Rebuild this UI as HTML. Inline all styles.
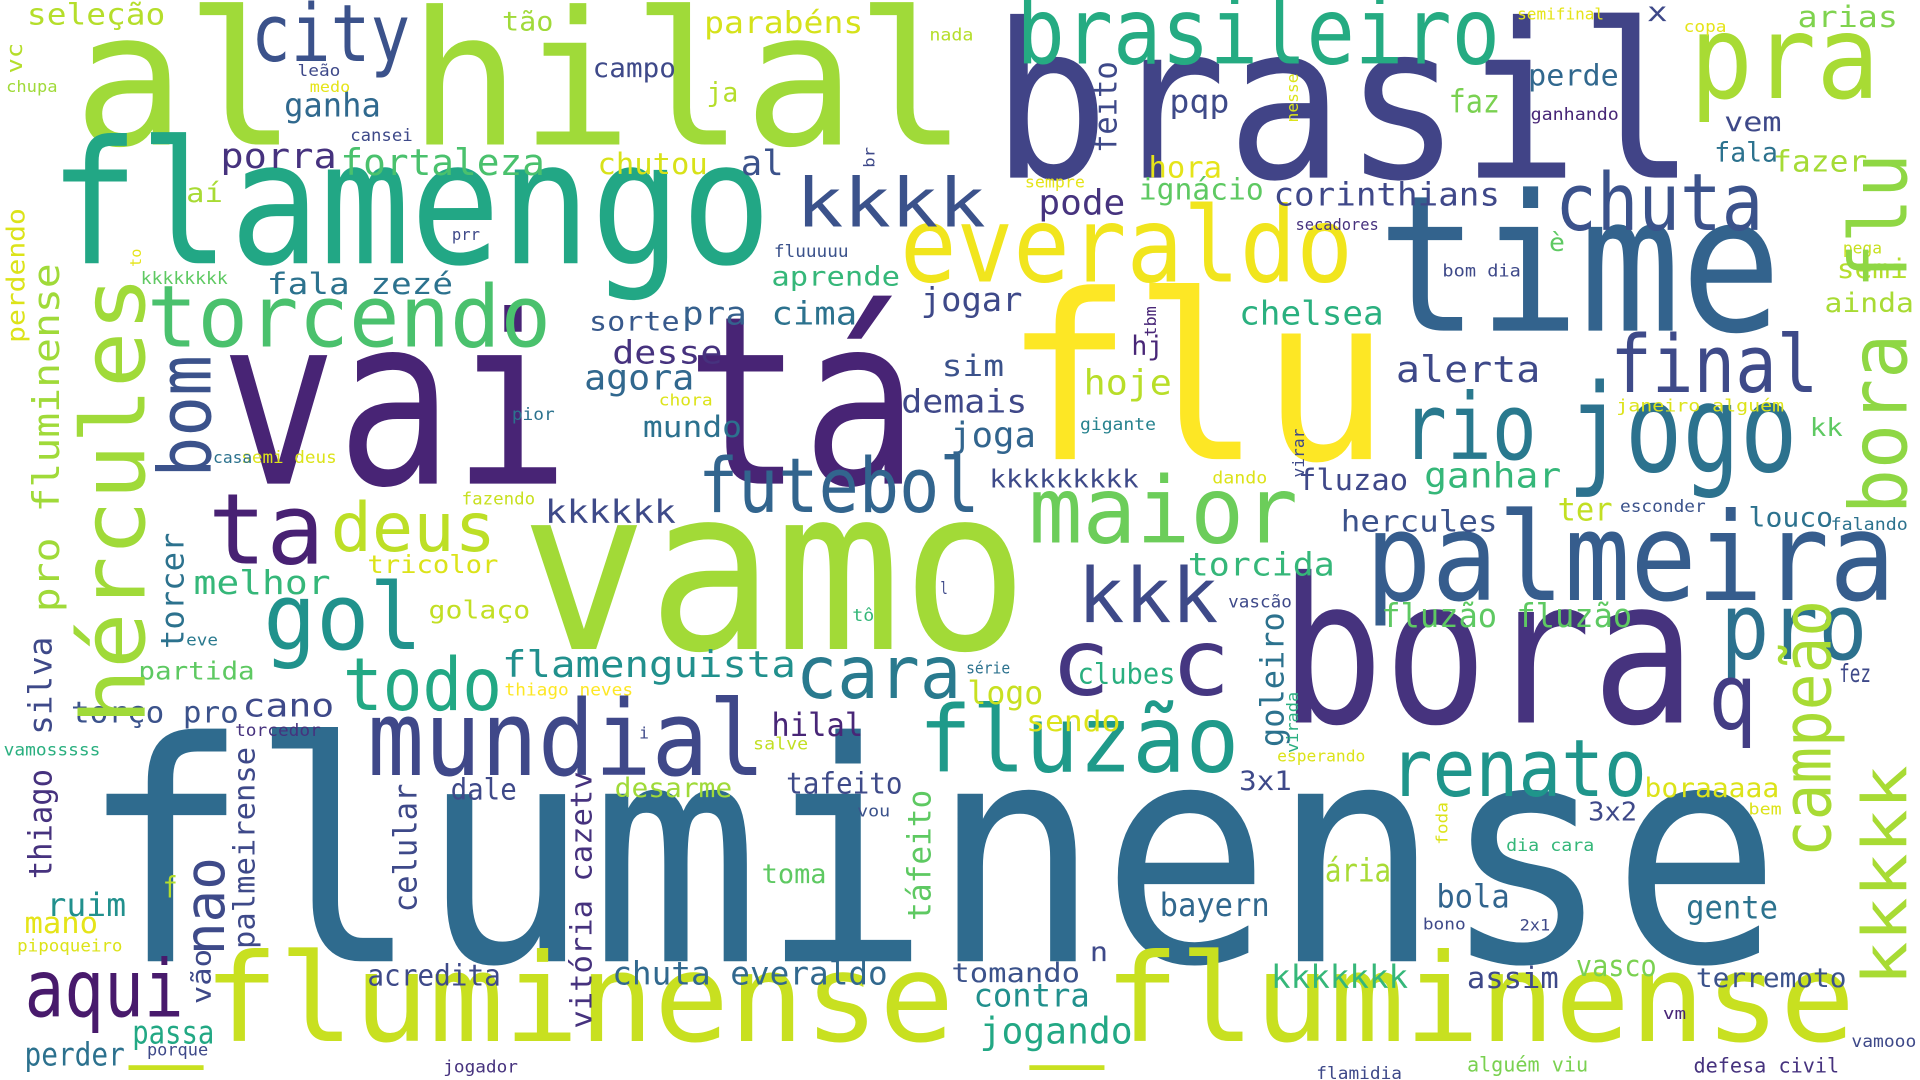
<!DOCTYPE html>
<html><head><meta charset="utf-8"><title>Word cloud</title>
<style>
html,body{margin:0;padding:0;background:#fff;overflow:hidden}
svg{display:block}
text{font-family:"DejaVu Sans Mono","Liberation Mono",monospace}
</style></head>
<body>
<svg id="cloud" width="1920" height="1080" viewBox="0 0 1568 882" xmlns="http://www.w3.org/2000/svg">
<rect width="1568" height="882" fill="#fff"/>
</svg>
<script>
// horizontal words: text, left x, right x, baseline y, font size, colour
const wordsH = [
["al hilal",60,790,118,152,"#a0da39"],
["brasil",810,1385,145,176,"#414487"],
["flamengo",40,630,215,140,"#22a785"],
["vai tá",180,750,395,192,"#482475"],
["flu",820,1135,375,188,"#fde725"],
["time",1125,1455,270,155,"#33638d"],
["vamo",425,840,530,185,"#a2da37"],
["fluminense",65,1455,785,250,"#2f6b8e"],
["_fluminense _fluminense",105,1515,850,100,"#c8e020"],
["bora",1045,1385,590,165,"#46337e"],
["palmeira",1115,1548,490,100,"#365d8d"],
["jogo",1280,1468,385,100,"#2c728e"],
["brasileiro",830,1225,52,75,"#25ab82"],
["pra",1380,1535,80,95,"#a8db34"],
["everaldo",735,1105,230,85,"#f1e51d"],
["chuta",1270,1440,188,65,"#3b528b"],
["final",1315,1485,320,65,"#3e4a89"],
["rio",1145,1255,375,75,"#29798e"],
["pro",1405,1525,538,75,"#2c718e"],
["q",1395,1435,595,75,"#433d84"],
["renato",1135,1345,650,65,"#1f958b"],
["maior",840,1060,443,75,"#6ccd5a"],
["futebol",570,800,418,62,"#32658e"],
["kkk",880,995,508,62,"#3e4a89"],
["c c",858,1005,567,75,"#453781"],
["cara",650,785,570,60,"#297a8e"],
["mundial",300,625,633,85,"#3f4889"],
["fluzão",750,1012,630,75,"#1f9a8a"],
["todo",280,410,580,60,"#22a884"],
["gol",215,345,530,75,"#20928c"],
["ta",170,265,460,80,"#482173"],
["deus",270,405,450,55,"#bddf26"],
["torcendo",120,450,283,70,"#4ac16d"],
["kkkk",650,805,185,55,"#3b528b"],
["city",205,335,50,65,"#3b528b"],
["aqui",20,150,830,65,"#481a6c"],
["porra",180,275,137,28,"#46327e"],
["fortaleza",278,445,143,30,"#4ac16d"],
["ganha",232,311,95,27,"#30698e"],
["campo",484,552,63,22,"#3e4989"],
["tão",410,452,25,22,"#a0da39"],
["parabéns",575,705,27,25,"#d5e21a"],
["seleção",22,135,20,24,"#b5de2b"],
["chutou",488,578,142,24,"#d8e219"],
["al",605,640,143,28,"#3b528b"],
["pode",848,919,175,28,"#46337e"],
["pqp",955,1004,92,26,"#3e4a89"],
["hora",938,998,145,24,"#e5e419"],
["ignácio",930,1032,163,24,"#5ec962"],
["corinthians",1040,1225,168,26,"#3f4889"],
["perde",1248,1322,70,24,"#31688e"],
["faz",1183,1225,92,26,"#7ad151"],
["vem",1408,1455,107,22,"#3e4989"],
["fala",1400,1452,132,22,"#2c728e"],
["fazer",1448,1525,140,24,"#a5db36"],
["arias",1468,1550,22,24,"#7fd34e"],
["x",1345,1362,17,22,"#3e4989"],
["semi",1500,1558,227,22,"#b5de2b"],
["ainda",1490,1563,255,22,"#a8db34"],
["fala zezé",218,370,240,24,"#2c728e"],
["aprende",630,735,233,22,"#35b779"],
["cima",630,700,265,26,"#2c728e"],
["pra",557,610,265,26,"#35608d"],
["sorte",481,555,270,22,"#38598c"],
["desse",500,590,297,26,"#46327e"],
["agora",477,567,318,28,"#31688e"],
["jogar",752,835,254,27,"#3e4989"],
["chelsea",1012,1130,265,27,"#2ab07f"],
["alerta",1140,1258,312,30,"#3e4989"],
["sim",769,820,307,24,"#3b528b"],
["hoje",885,957,322,28,"#b8de29"],
["hj",924,950,290,22,"#482677"],
["demais",736,839,337,26,"#3f4889"],
["joga",776,846,365,28,"#32658e"],
["mundo",525,606,357,24,"#2c718e"],
["kkkkkkkkk",808,930,398,20,"#3e4a89"],
["fluzao",1060,1150,400,24,"#3f4889"],
["ganhar",1163,1275,398,28,"#35b779"],
["ter",1272,1317,425,26,"#c2df23"],
["hercules",1095,1223,434,24,"#3b528b"],
["louco",1428,1497,430,22,"#2c728e"],
["falando",1495,1558,433,14,"#2c728e"],
["esconder",1323,1393,418,14,"#3b528b"],
["kkkkkk",445,552,427,26,"#3e4a89"],
["melhor",158,270,485,27,"#35b779"],
["tricolor",300,407,468,20,"#dce319"],
["torcida",970,1090,470,26,"#35b779"],
["fluzão fluzão",1128,1333,512,27,"#5ec962"],
["golaço",350,433,505,20,"#c2df23"],
["partida",113,208,555,20,"#5ec962"],
["flamenguista",410,650,553,30,"#21908d"],
["logo",790,852,575,26,"#c8e020"],
["série",789,825,550,13,"#2c728e"],
["clubes",880,960,558,23,"#29af7f"],
["sendo",838,915,597,23,"#dce319"],
["torço pro",58,195,590,24,"#3b528b"],
["cano",198,273,585,26,"#3e4989"],
["hilal",630,705,601,26,"#482677"],
["thiago neves",412,517,568,14,"#fde725"],
["fez",1502,1528,557,20,"#3e4989"],
["dale",368,422,653,24,"#3e4989"],
["desarme",502,598,651,22,"#a0da39"],
["tafeito",642,737,648,24,"#3e4a89"],
["3x1",1012,1055,645,22,"#3e4989"],
["boraaaaa",1343,1453,651,22,"#dce319"],
["3x2",1297,1337,670,21,"#3e4989"],
["bola",1173,1233,741,26,"#32658e"],
["gente",1377,1452,750,26,"#2c728e"],
["ária",1082,1136,720,26,"#a8db34"],
["bayern",947,1037,748,26,"#31688e"],
["toma",622,675,721,22,"#5ec962"],
["n",890,905,785,22,"#3e4989"],
["acredita",300,409,805,24,"#3e4a89"],
["chuta everaldo",500,725,804,26,"#31688e"],
["tomando",777,882,802,22,"#3b528b"],
["contra",795,890,822,26,"#21908d"],
["jogando",800,925,852,30,"#22a884"],
["kkkkkkk",1038,1150,807,26,"#35b779"],
["assim",1198,1273,807,24,"#3e4989"],
["vasco",1287,1353,797,24,"#7ad151"],
["terremoto",1385,1508,806,22,"#3b528b"],
["ruim",38,103,748,26,"#21908d"],
["mano",20,80,762,24,"#e5e419"],
["perder",20,102,870,26,"#2c718e"],
["passa",108,175,852,26,"#22a884"],
["porque",120,170,862,14,"#3e4989"],
["jogador",362,423,876,14,"#46327e"],
["alguém viu",1198,1297,875,17,"#7ad151"],
["flamidia",1075,1145,881,14,"#3e4989"],
["defesa civil",1383,1502,876,17,"#46327e"],
["vamooo",1512,1565,855,14,"#3e4989"],
["vm",1358,1377,832,13,"#482677"],
["f",133,145,733,24,"#b5de2b"],
["vou",700,727,667,13,"#3b528b"],
["salve",615,660,612,14,"#c2df23"],
["i",522,530,603,13,"#3e4989"],
["torcedor",192,262,601,14,"#46327e"],
["vamosssss",3,82,617,14,"#29af7f"],
["esperando",1043,1115,622,13,"#dce319"],
["bono",1162,1197,759,13,"#3e4989"],
["2x1",1241,1266,760,13,"#3e4989"],
["dia cara",1230,1302,695,14,"#35b779"],
["bem",1428,1455,665,13,"#dce319"],
["pipoqueiro",14,100,777,14,"#dce319"],
["tô",696,714,507,14,"#35b779"],
["eve",152,178,527,13,"#29798e"],
["l",768,774,485,14,"#3e4989"],
["vascão",1003,1055,496,14,"#3e4989"],
["kk",1478,1505,356,20,"#5ec962"],
["janeiro alguém",1320,1457,336,14,"#dce319"],
["gigante",882,944,351,14,"#26828e"],
["dando",990,1035,395,14,"#dce319"],
["fazendo",377,437,412,14,"#c8e020"],
["semi deus",197,275,378,14,"#dce319"],
["casa",174,206,378,13,"#2c728e"],
["pior",418,453,343,14,"#2c728e"],
["chora",538,582,331,13,"#dce319"],
["kkkkkkkk",115,186,232,14,"#5ec962"],
["prr",369,392,196,13,"#3e4989"],
["fluuuuu",632,693,210,14,"#3b528b"],
["aí",152,182,165,22,"#a8db34"],
["ja",577,603,83,22,"#b5de2b"],
["leão",243,278,62,13,"#3e4989"],
["medo",253,286,75,12,"#e5e419"],
["chupa",5,47,75,13,"#a0da39"],
["cansei",286,337,115,14,"#3e4989"],
["nada",759,795,33,14,"#b5de2b"],
["semifinal",1239,1310,16,13,"#e5e419"],
["copa",1375,1410,26,13,"#e5e419"],
["ganhando",1250,1322,98,14,"#482677"],
["secadores",1058,1126,188,13,"#46327e"],
["è",1265,1278,205,20,"#5ec962"],
["pega",1505,1537,207,13,"#c8e020"],
["bom dia",1178,1242,226,14,"#3e4989"],
["sempre",837,886,153,13,"#e5e419"]
];
// vertical words (read bottom-to-top): text, baseline x, bottom y, top y, font size, colour
const wordsV = [
["hércules",118,592,225,72,"#a0da39"],
["bom",172,390,290,60,"#3b528b"],
["nao",183,780,700,45,"#3e4a89"],
["pro fluminense",48,500,215,30,"#a0da39"],
["perdendo",20,280,170,20,"#dce319"],
["vc",18,60,35,18,"#b5de2b"],
["to",115,218,203,12,"#e5e419"],
["silva",42,600,520,26,"#3e4989"],
["thiago",42,718,628,26,"#46327e"],
["torcer",150,530,435,26,"#2c728e"],
["palmeirense",208,775,610,24,"#3e4989"],
["vão",172,820,775,22,"#3e4989"],
["celular",340,745,640,26,"#3e4989"],
["vitória cazetv",483,840,630,24,"#46327e"],
["feito",912,125,50,26,"#3e4989"],
["br",714,137,120,12,"#3e4989"],
["tbm",944,275,250,13,"#482677"],
["nesse",1060,100,60,13,"#dce319"],
["goleiro",1048,610,500,26,"#2c728e"],
["virada",1060,615,565,13,"#29af7f"],
["virar",1065,390,350,13,"#3e4989"],
["táfeito",760,752,645,26,"#5ec962"],
["foda",1182,690,655,13,"#dce319"],
["campeão",1495,700,490,55,"#a8db34"],
["kkkkk",1557,805,625,50,"#a8db34"],
["bora flu",1557,420,125,65,"#8fd744"]
];
const svg = document.getElementById('cloud');
const NS = 'http://www.w3.org/2000/svg';
function slug(s){return s.normalize('NFD').replace(/[\u0300-\u036f]/g,'').replace(/[^a-zA-Z0-9]+/g,'-').replace(/^-|-$/g,'').toLowerCase()||'word';}
wordsH.forEach(w => {
  const t = document.createElementNS(NS,'text');
  
  
  t.setAttribute('x', w[1]);
  t.setAttribute('y', w[3]);
  t.setAttribute('font-size', w[4]);
  t.setAttribute('fill', w[5]);
  t.setAttribute('textLength', w[2]-w[1]);
  t.setAttribute('lengthAdjust', 'spacingAndGlyphs');
  t.textContent = w[0];
  svg.appendChild(t);
});
wordsV.forEach(w => {
  const t = document.createElementNS(NS,'text');
  
  
  t.setAttribute('x', 0);
  t.setAttribute('y', 0);
  t.setAttribute('transform', 'translate(' + w[1] + ',' + w[2] + ') rotate(-90)');
  t.setAttribute('font-size', w[4]);
  t.setAttribute('fill', w[5]);
  t.setAttribute('textLength', w[2]-w[3]);
  t.setAttribute('lengthAdjust', 'spacingAndGlyphs');
  t.textContent = w[0];
  svg.appendChild(t);
});
</script>
</body></html>
